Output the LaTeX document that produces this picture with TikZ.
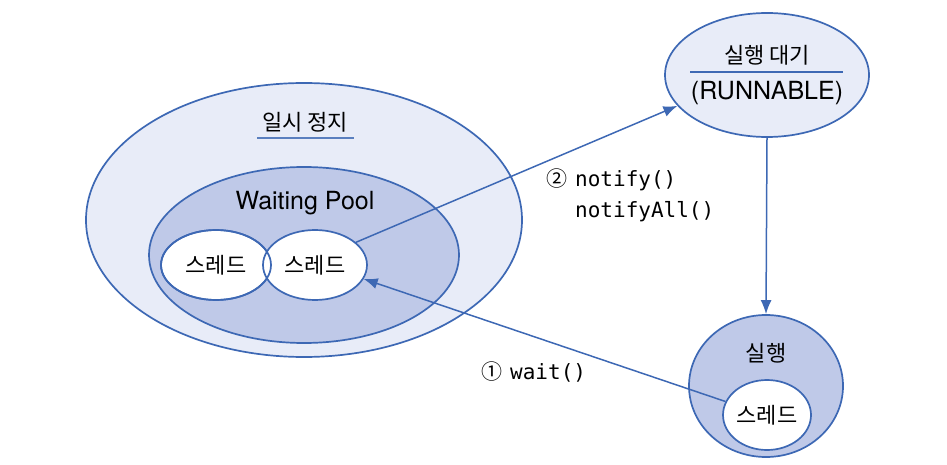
\documentclass[tikz,border=0pt]{standalone}
\usepackage{fontspec}
\setmainfont{TeX Gyre Heros}
\setmonofont{DejaVu Sans Mono}
\newfontfamily\kr{Noto Sans CJK KR}
\usetikzlibrary{shapes.geometric,arrows.meta}
\definecolor{lineblue}{HTML}{3D68B4}
\definecolor{paleblue}{HTML}{E8ECF8}
\definecolor{midblue}{HTML}{BFC9E8}
\begin{document}
\begin{tikzpicture}[x=1pt,y=1pt,
		state/.style={ellipse,draw=lineblue,line width=1.7pt,inner sep=0pt},
		thread/.style={state,fill=white,minimum height=70pt,font=\kr\fontsize{22}{26}\selectfont},
		krlabel/.style={inner sep=0pt,font=\kr\fontsize{22}{26}\selectfont},
		enlabel/.style={inner sep=0pt,font=\fontsize{25}{30}\selectfont},
		method/.style={anchor=west,inner sep=0pt,font=\fontsize{21}{26}\selectfont\ttfamily},
		flow/.style={draw=lineblue,line width=1.5pt,-{Latex[length=14pt,width=11pt]}}]
				\useasboundingbox (0,0) rectangle (947,464);
				
				% paused state with its waiting pool
				\node[state,fill=paleblue,minimum width=436pt,minimum height=274pt] (pause) at (304,244) {};
				\node[state,fill=midblue,minimum width=310pt,minimum height=176pt] (pool) at (304,209) {};
				\node[thread,minimum width=110pt] (th1) at (216,199) {스레드};
				\node[thread,minimum width=104pt] (th2) at (315,199) {스레드};
				\draw[lineblue,line width=1.7pt] (th1.center) ellipse (55 and 35);
				\node[krlabel] (pausetitle) at (305,342) {일시 정지};
				\draw[lineblue!85,line width=1.4pt] (257,326) -- (354,326);
				\node[enlabel] (pooltitle) at (305,261) {Waiting Pool};
				
				% runnable
				\node[state,fill=paleblue,minimum width=204pt,minimum height=124pt] (runq) at (767,389) {};
				\node[krlabel] (runqtitle) at (767,409) {실행 대기};
				\draw[lineblue,line width=1.4pt] (690,392) -- (843,392);
				\node[enlabel] (runqsub) at (767,371) {(RUNNABLE)};
				
				% running
				\node[state,fill=midblue,minimum width=154pt,minimum height=142pt] (run) at (766,78) {};
				\node[krlabel] (runtitle) at (766,111) {실행};
				\node[thread,minimum width=88pt] (th3) at (767,49) {스레드};
				
				\draw[flow] (th2.29) -- (runq.199);
				\draw[flow] (runq.south) -- (run.north);
				\draw[flow] (th3.162) -- (th2.344);
				
				\node[method] (notify) at (546,284) {{\kr ②}\hspace{8pt}notify()};
				\node[method] (notifyall) at (575,252) {notifyAll()};
				\node[method] (wait) at (481,92) {{\kr ①}\hspace{8pt}wait()};
			\end{tikzpicture}
\end{document}
